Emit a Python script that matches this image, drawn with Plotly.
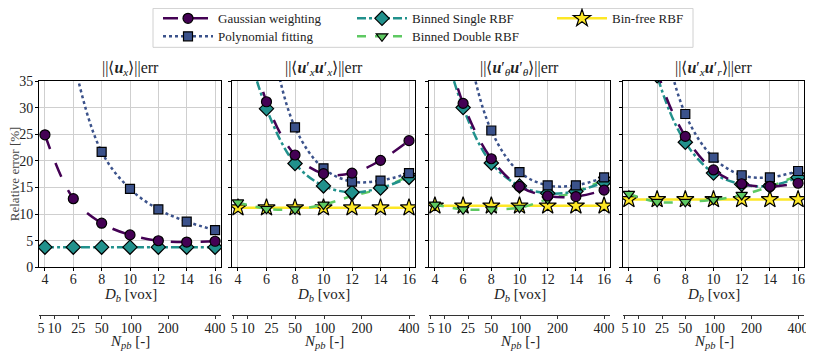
import plotly.graph_objects as go

# D_b bin sizes [vox]
d_b = [4, 6, 8, 10, 12, 14, 16]
n_pb_ticks = [5, 10, 25, 50, 100, 200, 400]

panel_titles = [
    "||⟨<b><i>u</i></b><sub><i>x</i></sub>⟩||err",
    "||⟨<b><i>u</i></b>′<sub><i>x</i></sub><b><i>u</i></b>′<sub><i>x</i></sub>⟩||err",
    "||⟨<b><i>u</i></b>′<sub><i>θ</i></sub><b><i>u</i></b>′<sub><i>θ</i></sub>⟩||err",
    "||⟨<b><i>u</i></b>′<sub><i>x</i></sub><b><i>u</i></b>′<sub><i>r</i></sub>⟩||err",
]

# relative error [%] per panel (None = not shown in that panel)
gauss = [
    [24.9, 12.9, 8.3, 6.1, 5.0, 4.75, 4.9],
    [55.0, 31.1, 21.1, 17.6, 17.7, 20.1, 23.8],
    [50.0, 30.8, 20.4, 15.2, 13.4, 13.3, 14.5],
    [65.0, 37.0, 24.6, 18.3, 15.7, 15.2, 15.8],
]
poly = [
    [70.0, 39.0, 21.7, 14.75, 10.9, 8.6, 7.0],
    [90.0, 48.0, 26.3, 18.6, 16.1, 16.3, 17.7],
    [85.0, 46.0, 25.7, 17.9, 15.4, 15.4, 16.9],
    [95.0, 50.0, 28.8, 20.6, 17.3, 16.9, 18.1],
]
single = [
    [3.8, 3.8, 3.8, 3.8, 3.8, 3.8, 3.8],
    [48.0, 29.8, 19.5, 15.3, 14.1, 14.9, 16.9],
    [48.0, 30.0, 19.6, 15.3, 13.9, 14.3, 16.0],
    [62.0, 36.0, 23.5, 17.7, 15.6, 15.3, 16.9],
]
double = [
    None,
    [12.2, 11.0, 10.9, 11.8, 13.4, 14.8, 17.2],
    [11.8, 10.9, 10.9, 11.2, 12.8, 14.2, 16.5],
    [13.8, 12.3, 12.3, 12.7, 13.6, 15.2, 17.3],
]
binfree = [
    None,
    [11.2] * 7,
    [11.55] * 7,
    [12.75] * 7,
]

# page body adds an 8px margin, so work in reference pixels minus OFF
OFF = 8
W, H = 814 - OFF, 351 - OFF
TOP_PX, BOT_PX, NPB_PX = 80.7, 267.3, 315
X_EDGES = [(39, 221), (232, 415), (429, 610), (623, 804)]
ML = X_EDGES[0][0] - OFF
MR = W - (X_EDGES[-1][1] - OFF)
MT = TOP_PX - OFF
MB = H - (NPB_PX - OFF)
PW = W - ML - MR
PH = H - MT - MB


def px_x(px):
    return (px - OFF - ML) / PW


def px_y(py):
    return (NPB_PX - py) / PH


Y_MAIN_BOTTOM = px_y(BOT_PX)
FONT = "Liberation Serif"

series = [
    # name, data, color, dash, symbol, size, legend slot (col px, row px)
    ("Gaussian weighting", gauss, "#440154", "longdash", "circle", 10, (158, 18)),
    ("Polynomial fitting", poly, "#3b528b", "dot", "square", 9, (158, 36)),
    ("Binned Single RBF", single, "#21918c", "dashdot", "diamond", 11, (352, 18)),
    ("Binned Double RBF", double, "#5ec962", "dash", "triangle-down", 10, (352, 36)),
    ("Bin-free RBF", binfree, "#fde725", "solid", "star", 13, (552, 18)),
]

fig = go.Figure()

order = [4, 3, 2, 1, 0]
shown = set()
for si in order:
    name, data, color, dash, symbol, size, _ = series[si]
    leg = "legend" if si == 0 else "legend" + str(si + 1)
    for p in range(4):
        vals = data[p]
        if vals is None:
            continue
        ax = "" if p == 0 else str(p + 1)
        fig.add_trace(go.Scatter(
            x=d_b, y=vals, name=name, mode="lines+markers",
            line=dict(color=color, width=2.5, dash=dash, shape="spline", smoothing=1.0),
            marker=dict(symbol=symbol, size=size, color=color,
                        line=dict(color="black", width=1.2)),
            xaxis="x" + ax, yaxis="y" + ax,
            legend=leg, showlegend=name not in shown,
        ))
        shown.add(name)

# empty traces so the N_pb axes get drawn
for p in range(4):
    ax = "" if p == 0 else str(p + 1)
    fig.add_trace(go.Scatter(x=d_b, y=[None] * len(d_b), xaxis="x" + str(p + 5),
                             yaxis="y" + ax, showlegend=False, hoverinfo="skip"))

axis_common = dict(
    showline=True, linecolor="black", linewidth=1, mirror=True,
    showgrid=True, gridcolor="#cfcfcf", gridwidth=1,
    ticks="outside", ticklen=3, tickcolor="black",
    zeroline=False, tickfont=dict(family=FONT, size=14, color="#222"),
)

layout = {}
annotations = []
for p, (x0, x1) in enumerate(X_EDGES):
    ax = "" if p == 0 else str(p + 1)
    dom = [px_x(x0), px_x(x1)]
    xc = px_x((x0 + x1) / 2)
    layout["xaxis" + ax] = dict(
        axis_common, domain=dom, range=[3.58, 16.42],
        tickvals=d_b, anchor="y" + ax, ticklabelstandoff=-4,
    )
    layout["yaxis" + ax] = dict(
        axis_common, domain=[Y_MAIN_BOTTOM, 1], range=[0, 35],
        tickvals=[0, 5, 10, 15, 20, 25, 30, 35], anchor="x" + ax,
        showticklabels=(p == 0), ticklabelstandoff=-1,
    )
    # secondary N_pb axis (N_pb ~ D_b^3, 400 at D_b = 16)
    layout["xaxis" + str(p + 5)] = dict(
        overlaying="x" + ax, range=[3.58, 16.42], anchor="free", position=0,
        showline=True, linecolor="#333", linewidth=1, showgrid=False, zeroline=False,
        ticks="outside", ticklen=3, tickcolor="#333", side="bottom",
        ticklabelstandoff=-3,
        tickvals=[16 * (n / 400) ** (1 / 3) for n in n_pb_ticks],
        ticktext=[str(n) for n in n_pb_ticks],
        tickfont=dict(family=FONT, size=14, color="#222"),
    )
    annotations.append(dict(
        text=panel_titles[p], x=xc, y=1,
        xref="paper", yref="paper", xanchor="center", yanchor="bottom",
        yshift=1, showarrow=False, font=dict(family=FONT, size=16, color="#222"),
    ))
    annotations.append(dict(
        text="<i>D</i><sub><i>b</i></sub> [vox]", x=xc, y=px_y(295),
        xref="paper", yref="paper", xanchor="center", yanchor="middle",
        showarrow=False, font=dict(family=FONT, size=15, color="#222"),
    ))
    annotations.append(dict(
        text="<i>N</i><sub><i>pb</i></sub> [-]", x=xc, y=px_y(342),
        xref="paper", yref="paper", xanchor="center", yanchor="middle",
        showarrow=False, font=dict(family=FONT, size=15, color="#222"),
    ))

annotations.append(dict(
    text="Relative error [%]", x=px_x(14), y=px_y(174), textangle=-90,
    xref="paper", yref="paper", xanchor="center", yanchor="middle",
    showarrow=False, font=dict(family=FONT, size=13, color="#444"),
))

legends = {}
for si, s in enumerate(series):
    key = "legend" if si == 0 else "legend" + str(si + 1)
    lx, ly = s[6]
    legends[key] = dict(
        orientation="v", yanchor="middle", xanchor="left", x=px_x(lx), y=px_y(ly),
        bgcolor="rgba(0,0,0,0)", borderwidth=0, tracegroupgap=0,
        font=dict(family=FONT, size=13, color="#222"), itemwidth=50,
    )

fig.update_layout(
    width=W, height=H,
    margin=dict(l=ML, r=MR, t=MT, b=MB, autoexpand=False),
    paper_bgcolor="white", plot_bgcolor="white",
    annotations=annotations,
    shapes=[dict(type="rect", xref="paper", yref="paper",
                 x0=px_x(153), x1=px_x(693), y0=px_y(47), y1=px_y(8),
                 line=dict(color="#d0d0d0", width=1), fillcolor="white", layer="below")],
    **legends,
    **layout,
)

fig.write_html("out.html")
